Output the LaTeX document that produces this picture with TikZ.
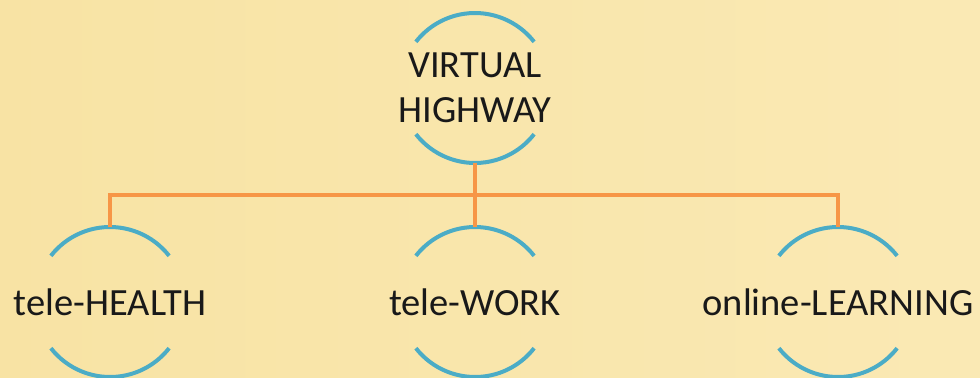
\documentclass[tikz,border=0pt]{standalone}
\usepackage{fontspec}
\setmainfont{Carlito}
\usepackage{tikz}
\usetikzlibrary{calc}

\definecolor{arcblue}{HTML}{4BACC6}
\definecolor{branchorange}{HTML}{F79646}
\definecolor{paperdark}{HTML}{F8E3A4}
\definecolor{paperlight}{HTML}{FBEEC3}
\definecolor{papermid}{HTML}{FAE9B4}

\tikzset{
  term/.style={circle,minimum size=75pt,inner sep=0pt,outer sep=0pt},
  termtext/.style={font=\fontsize{19.25}{22.5}\selectfont,align=center,text=black!90},
  halfarc/.style={draw=arcblue,line width=2pt},
  branch/.style={draw=branchorange,line width=1.75pt}
}

\begin{document}
\begin{tikzpicture}
  \useasboundingbox (0,0) rectangle (490pt,188.5pt);
  % paper background
  \shade[left color=paperdark, middle color=paperlight, right color=papermid]
    (0,0) rectangle (490pt,188.5pt);

      \draw (237.5pt,144.5pt) node[term,label={[termtext]center:{VIRTUAL\\HIGHWAY}}] (highway) {};
  \draw (55pt,37.5pt) node[term,label={[termtext]center:tele-HEALTH}] (health) {};
      \draw (237.5pt,37.5pt) node[term,label={[termtext]center:tele-WORK}] (work) {};
  \draw (419pt,37.5pt) node[term,label={[termtext]center:online-LEARNING}] (learning) {};

  \foreach \n in {highway,health,work,learning}{
      \draw[halfarc] (\n.38) arc (38:142:37.5pt);
      \draw[halfarc] (\n.218) arc (218:322:37.5pt);
  }

      \coordinate (bar) at ($(highway.south)!0.5!(work.north)$);
      \path[branch] (highway.south) edge (work.north);
      \draw[branch] (health.north) |- (bar) -| (learning.north);
\end{tikzpicture}
\end{document}
